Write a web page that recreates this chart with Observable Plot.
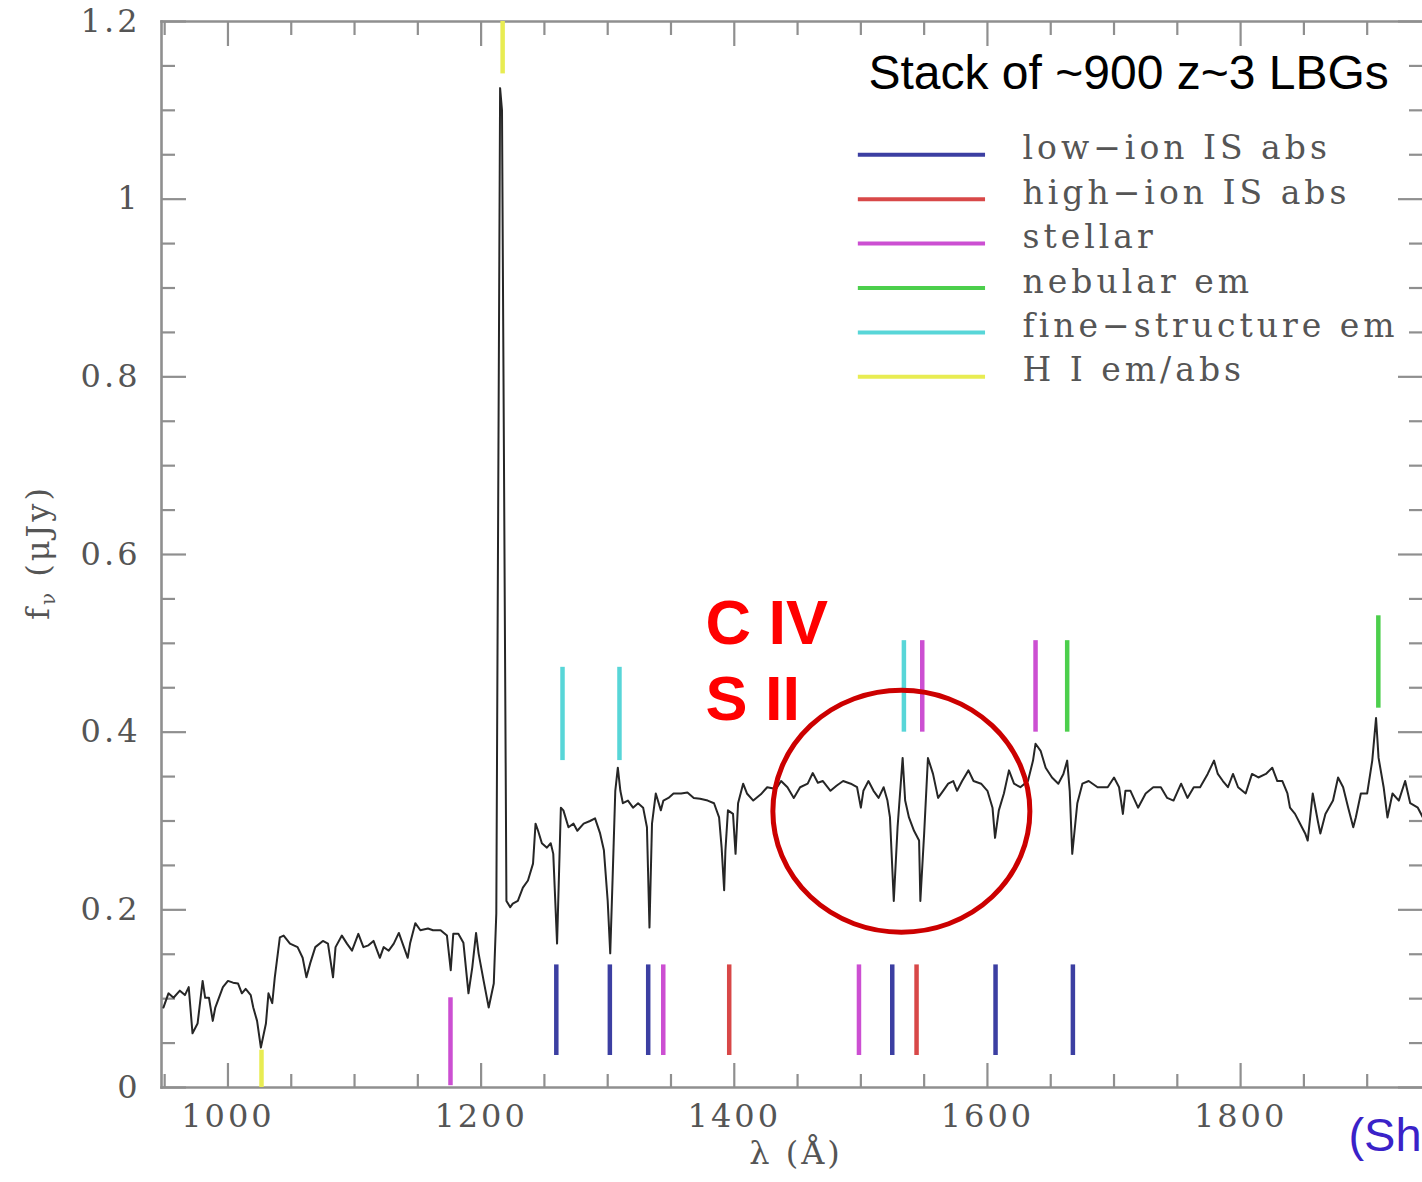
<!DOCTYPE html>
<html>
<head>
<meta charset="utf-8">
<script src="https://cdn.jsdelivr.net/npm/d3@7"></script>
<script src="https://cdn.jsdelivr.net/npm/@observablehq/plot@0.6"></script>
<style>
html, body { margin: 0; padding: 0; background: #fff; overflow: hidden; }
#chart svg { display: block; max-width: none; }
g[font-family="DejaVu Serif"] text { letter-spacing: 3px; }
g[font-family="DejaVu Serif"][font-size="33"] text { letter-spacing: 4px; }
</style>
</head>
<body>
<div id="chart"></div>
<script>
// ---- Stacked spectrum: rest wavelength (Å) and flux density (μJy) ----
const wavelength = [
  949, 953, 957, 962, 966, 969, 972, 976, 980, 982, 985, 988, 990, 996, 1000, 1004, 1008, 1011, 1014, 1018,
  1020, 1023, 1026, 1030, 1032, 1035, 1037, 1041, 1044, 1049, 1055, 1059, 1062, 1065, 1069, 1075, 1079, 1083, 1085, 1090,
  1094, 1098, 1103, 1107, 1111, 1115, 1120, 1123, 1127, 1131, 1135, 1138, 1142, 1144, 1148, 1152, 1158, 1162, 1168, 1173,
  1176, 1178, 1182, 1186, 1190, 1193, 1196, 1198, 1202, 1206, 1210, 1212, 1215, 1216.5, 1220, 1223, 1225, 1229, 1233, 1237,
  1241, 1243, 1245, 1248, 1252, 1255, 1257, 1260, 1263, 1265, 1269, 1273, 1276, 1281, 1286, 1290, 1294, 1297, 1300, 1302,
  1304, 1306, 1308, 1310, 1312, 1316, 1320, 1324, 1328, 1331, 1333, 1335, 1338, 1342, 1344, 1348, 1352, 1358, 1363, 1368,
  1373, 1379, 1384, 1388, 1390, 1392, 1393, 1395, 1399, 1401, 1403, 1407, 1410, 1415, 1421, 1426, 1433, 1437, 1442, 1447,
  1452, 1458, 1462, 1466, 1470, 1476, 1481, 1486, 1492, 1497, 1500, 1502, 1506, 1510, 1514, 1518, 1521, 1523, 1526, 1529,
  1533, 1535, 1538, 1542, 1546, 1547, 1550, 1553, 1557, 1561, 1565, 1569, 1573, 1576, 1580, 1585, 1589, 1595, 1600, 1604,
  1606, 1609, 1613, 1617, 1621, 1626, 1632, 1636, 1638, 1642, 1646, 1651, 1656, 1660, 1663, 1665, 1667, 1671, 1675, 1680,
  1687, 1689, 1695, 1700, 1704, 1707, 1709, 1713, 1719, 1725, 1731, 1737, 1742, 1747, 1753, 1758, 1763, 1768, 1774, 1779,
  1782, 1786, 1790, 1794, 1798, 1804, 1809, 1814, 1820, 1825, 1829, 1833, 1837, 1839, 1843, 1847, 1851, 1853, 1857, 1861,
  1863, 1867, 1873, 1877, 1881, 1885, 1889, 1891, 1895, 1900, 1904, 1907, 1909, 1913, 1916, 1920, 1925, 1930, 1934, 1940,
  1944
];
const flux = [
  0.090, 0.106, 0.101, 0.109, 0.104, 0.113, 0.061, 0.072, 0.120, 0.101, 0.101, 0.075, 0.090, 0.113, 0.120, 0.118, 0.117, 0.106, 0.111, 0.104,
  0.090, 0.075, 0.045, 0.072, 0.106, 0.095, 0.124, 0.169, 0.171, 0.162, 0.158, 0.146, 0.124, 0.140, 0.158, 0.165, 0.162, 0.124, 0.158, 0.171,
  0.162, 0.154, 0.173, 0.158, 0.160, 0.165, 0.146, 0.158, 0.154, 0.162, 0.174, 0.162, 0.146, 0.163, 0.185, 0.177, 0.179, 0.177, 0.177, 0.171,
  0.132, 0.173, 0.173, 0.163, 0.106, 0.135, 0.174, 0.151, 0.120, 0.090, 0.117, 0.196, 1.125, 1.100, 0.210, 0.203, 0.207, 0.210, 0.225, 0.233,
  0.252, 0.297, 0.289, 0.275, 0.270, 0.275, 0.263, 0.162, 0.315, 0.312, 0.293, 0.297, 0.289, 0.297, 0.300, 0.303, 0.286, 0.267, 0.210, 0.151,
  0.241, 0.334, 0.360, 0.334, 0.320, 0.323, 0.315, 0.320, 0.315, 0.293, 0.180, 0.297, 0.331, 0.312, 0.323, 0.326, 0.331, 0.331, 0.332, 0.326,
  0.325, 0.323, 0.320, 0.304, 0.270, 0.222, 0.267, 0.312, 0.308, 0.263, 0.320, 0.342, 0.331, 0.323, 0.330, 0.338, 0.336, 0.345, 0.338, 0.326,
  0.338, 0.342, 0.354, 0.343, 0.345, 0.334, 0.340, 0.345, 0.342, 0.338, 0.315, 0.334, 0.345, 0.334, 0.326, 0.338, 0.323, 0.304, 0.210, 0.293,
  0.371, 0.323, 0.304, 0.289, 0.278, 0.210, 0.286, 0.371, 0.353, 0.326, 0.334, 0.342, 0.345, 0.334, 0.345, 0.357, 0.345, 0.342, 0.334, 0.315,
  0.281, 0.312, 0.331, 0.357, 0.342, 0.338, 0.345, 0.368, 0.387, 0.379, 0.360, 0.349, 0.342, 0.353, 0.368, 0.334, 0.263, 0.320, 0.342, 0.345,
  0.338, 0.338, 0.338, 0.349, 0.338, 0.308, 0.334, 0.334, 0.315, 0.331, 0.338, 0.338, 0.326, 0.323, 0.342, 0.326, 0.338, 0.338, 0.353, 0.368,
  0.353, 0.345, 0.338, 0.353, 0.338, 0.331, 0.353, 0.349, 0.353, 0.360, 0.345, 0.345, 0.331, 0.315, 0.308, 0.297, 0.286, 0.278, 0.331, 0.300,
  0.286, 0.308, 0.323, 0.349, 0.338, 0.315, 0.293, 0.304, 0.331, 0.331, 0.368, 0.416, 0.371, 0.338, 0.304, 0.331, 0.323, 0.345, 0.320, 0.315,
  0.304
];

// ---- Line identifications ----
const categories = ["low−ion IS abs", "high−ion IS abs", "stellar", "nebular em", "fine−structure em", "H I em/abs"];
const categoryColors = ["#3c3fa2", "#d84848", "#cc4fd2", "#4ccf4c", "#58d6d8", "#e8ec52"];
const lineWavelength = [1259.4, 1301.7, 1332.0, 1524.8, 1606.4, 1667.5, 1396.0, 1544.0, 1175.8, 1343.9, 1498.5, 1548.5, 1638.0, 1663.0, 1908.8, 1264.3, 1309.3, 1534.0, 1026.5, 1217.0];
const lineKind     = [0, 0, 0, 0, 0, 0, 1, 1, 2, 2, 2, 2, 2, 3, 3, 4, 4, 4, 5, 5];
const lineFluxLow  = [0.036, 0.036, 0.036, 0.036, 0.036, 0.036, 0.036, 0.036, 0.002, 0.036, 0.036, 0.400, 0.400, 0.400, 0.427, 0.368, 0.368, 0.400, 0.000, 1.141];
const lineFluxHigh = [0.138, 0.138, 0.138, 0.138, 0.138, 0.138, 0.138, 0.138, 0.101, 0.138, 0.138, 0.503, 0.503, 0.503, 0.531, 0.473, 0.473, 0.503, 0.042, 1.200];

// ---- Axes ----
const xMajorTicks = [1000, 1200, 1400, 1600, 1800];
const xMinorTicks = [950, 1050, 1100, 1150, 1250, 1300, 1350, 1450, 1500, 1550, 1650, 1700, 1750, 1850, 1900];
const yMajorTicks = [0, 0.2, 0.4, 0.6, 0.8, 1, 1.2];
const yMinorTicks = [0.05, 0.1, 0.15, 0.25, 0.3, 0.35, 0.45, 0.5, 0.55, 0.65, 0.7, 0.75, 0.85, 0.9, 0.95, 1.05, 1.1, 1.15];
const xDomain = [947.5, 1943.7];
const yDomain = [0, 1.2];
const xTitle = "λ (Å)";
const yTitle = "f (μJy)";

// ---- Legend and annotations (placed in data units) ----
const legendRowFlux = [1.05, 1.00, 0.95, 0.90, 0.85, 0.80];
const legendLineLambda = [1498, 1598.5];
const legendTextLambda = [1627.7];
const annText   = ["Stack of ~900 z~3 LBGs", "C IV", "S II", "(Sh"];
const annLambda = [1506.0, 1377.3, 1377.3, 1885.2];
const annFlux   = [1.141, 0.5223, 0.4368, -0.054];
const highlightLambda = [1532];
const highlightFlux = [0.311];

const spec = wavelength.map((w, i) => ({w, f: flux[i]}));
const lines = lineWavelength.map((w, i) => ({w, kind: categories[lineKind[i]], lo: lineFluxLow[i], hi: lineFluxHigh[i]}));
const legendRows = categories.map((c, i) => ({c, y: legendRowFlux[i]}));
const ann = annText.map((t, i) => ({t, x: annLambda[i], y: annFlux[i]}));

const axisGray = "#8f8f8f";
const textGray = "#555";
const serif = "DejaVu Serif";

const tickOpts = {stroke: axisGray, strokeWidth: 2.2, fill: "none", label: null};

const plot = Plot.plot({
  width: 1422,
  height: 1182,
  marginLeft: 161,
  marginRight: 0,
  marginTop: 21,
  marginBottom: 95,
  x: {domain: xDomain},
  y: {domain: yDomain},
  color: {domain: categories, range: categoryColors},
  style: {background: "#fff", overflow: "visible"},
  marks: [
    // frame (right side is outside the crop)
    Plot.frame({anchor: "left", stroke: axisGray, strokeWidth: 2.6}),
    Plot.frame({anchor: "top", stroke: axisGray, strokeWidth: 2.6}),
    Plot.frame({anchor: "bottom", stroke: axisGray, strokeWidth: 2.6}),
    // inward ticks on all sides
    Plot.axisX({anchor: "bottom", ticks: xMajorTicks, tickSize: -24, ...tickOpts}),
    Plot.axisX({anchor: "bottom", ticks: xMinorTicks, tickSize: -13, ...tickOpts}),
    Plot.axisX({anchor: "top", ticks: xMajorTicks, tickSize: -24, ...tickOpts}),
    Plot.axisX({anchor: "top", ticks: xMinorTicks, tickSize: -13, ...tickOpts}),
    Plot.axisY({anchor: "left", ticks: yMajorTicks, tickSize: -25, ...tickOpts}),
    Plot.axisY({anchor: "left", ticks: yMinorTicks, tickSize: -14, ...tickOpts}),
    Plot.axisY({anchor: "right", ticks: yMajorTicks, tickSize: -25, ...tickOpts}),
    Plot.axisY({anchor: "right", ticks: yMinorTicks, tickSize: -14, ...tickOpts}),
    // tick labels
    Plot.axisX({anchor: "bottom", ticks: xMajorTicks, tickSize: 0, tickPadding: 17, tickFormat: d => `${d}`,
      fill: textGray, fontFamily: serif, fontSize: 32, label: null}),
    Plot.axisY({anchor: "left", ticks: yMajorTicks, tickSize: 0, tickPadding: 21, tickFormat: d => `${d}`,
      fill: textGray, fontFamily: serif, fontSize: 32, label: null}),
    // axis titles
    Plot.text([xTitle], {frameAnchor: "bottom", dx: 4, dy: 76, text: d => d, fill: textGray,
      fontFamily: serif, fontSize: 32}),
    Plot.text([yTitle], {frameAnchor: "left", dx: -123, dy: -2, rotate: -90, textAnchor: "middle",
      text: d => d, fill: textGray, fontFamily: serif, fontSize: 32}),
    // line identifications
    Plot.ruleX(lines, {x: "w", y1: "lo", y2: "hi", stroke: "kind", strokeWidth: 4.5}),
    // spectrum
    Plot.line(spec, {x: "w", y: "f", stroke: "#262626", strokeWidth: 2, strokeLinejoin: "round"}),
    // legend
    Plot.ruleY(legendRows, {y: "y", x1: legendLineLambda[0], x2: legendLineLambda[1], stroke: "c", strokeWidth: 4}),
    Plot.text(legendRows, {y: "y", x: legendTextLambda[0], text: "c", textAnchor: "start", dy: -6,
      fill: textGray, fontFamily: serif, fontSize: 33}),
    // annotations
    Plot.text(ann.slice(0, 1), {x: "x", y: "y", text: "t", textAnchor: "start", fill: "#000",
      fontFamily: "Liberation Sans", fontSize: 48}),
    Plot.text(ann.slice(1, 3), {x: "x", y: "y", text: "t", textAnchor: "start", fill: "#ff0000",
      fontFamily: "Liberation Sans", fontSize: 63, fontWeight: "bold"}),
    Plot.text(ann.slice(3), {x: "x", y: "y", text: "t", textAnchor: "start", fill: "#3a22c8",
      fontFamily: "Liberation Sans", fontSize: 47}),
    Plot.dot(highlightLambda, {x: highlightLambda, y: highlightFlux, r: 125, fill: "none",
      stroke: "#cc0000", strokeWidth: 5})
  ]
});

document.getElementById("chart").appendChild(plot);

const ns = "http://www.w3.org/2000/svg";
// subscript ν on the y-axis title
plot.querySelectorAll("text").forEach(el => {
  if (el.textContent === yTitle) {
    el.textContent = "";
    const t1 = document.createElementNS(ns, "tspan"); t1.textContent = "f";
    const t2 = document.createElementNS(ns, "tspan"); t2.textContent = "ν";
    t2.setAttribute("font-size", "20"); t2.setAttribute("dy", "6");
    const t3 = document.createElementNS(ns, "tspan"); t3.textContent = " (μJy)"; t3.setAttribute("dy", "-6");
    el.append(t1, t2, t3);
  }
});
// slightly elliptical highlight ring, as in the original
plot.querySelectorAll("circle").forEach(c => {
  if (+c.getAttribute("r") === 125) {
    const cx = +c.getAttribute("cx") || 0, cy = +c.getAttribute("cy") || 0;
    c.setAttribute("transform", `translate(${cx},${cy}) scale(1.028,0.968) translate(${-cx},${-cy})`);
    c.setAttribute("vector-effect", "non-scaling-stroke");
  }
});
</script>
</body>
</html>
